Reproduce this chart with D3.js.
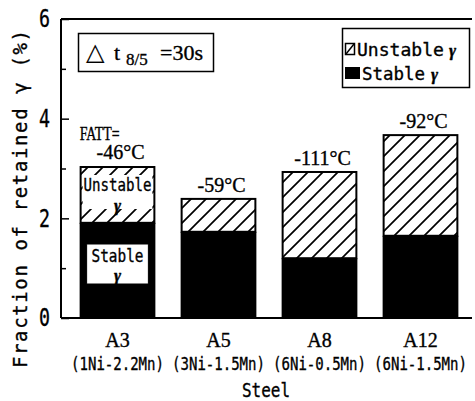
<!DOCTYPE html>
<html><head><meta charset="utf-8">
<script src="https://cdn.jsdelivr.net/npm/d3@7"></script>
<style>body{margin:0;background:#fff}svg{display:block}text{stroke:#000;stroke-width:0.35px}</style>
</head><body>
<script>
const categories = ["A3","A5","A8","A12"];
const compositions = ["(1Ni-2.2Mn)","(3Ni-1.5Mn)","(6Ni-0.5Mn)","(6Ni-1.5Mn)"];
const stable = [1.91, 1.73, 1.20, 1.65];
const unstable = [1.14, 0.68, 1.75, 2.04];
const fatt = ["-46°C","-59°C","-111°C","-92°C"];
const yTicks = [0,2,4,6];
const yMinor = [1,3,5];

(function(){
const W = 475, H = 401;
const svg = d3.select("body").append("svg").attr("width", W).attr("height", H);
const defs = svg.append("defs");
const pat = defs.append("pattern").attr("id","hatch").attr("patternUnits","userSpaceOnUse")
  .attr("width",15).attr("height",15);
pat.append("rect").attr("width",15).attr("height",15).attr("fill","#fff");
pat.append("path").attr("d","M0,15 L15,0 M-4,4 L4,-4 M11,19 L19,11").attr("stroke","#000").attr("stroke-width",1.7);

const mL = 61, mR = 472, mT = 19, mB = 318;
const y = d3.scaleLinear().domain([0,6]).range([mB, mT]);
const x = d3.scaleBand().domain(categories).range([67, 471]).paddingInner(0.25).paddingOuter(0.125);
const bw = x.bandwidth();

const serif = "'Liberation Serif', serif";
const sansMono = "'DejaVu Sans Mono', monospace";

function ctext(parent, px, py, str, family, size, width, anchor){
  const t = parent.append("text").attr("font-family",family).attr("font-size",size)
    .attr("text-anchor",anchor||"start").text(str);
  const nat = t.node().getComputedTextLength();
  const k = width / nat;
  t.attr("transform",`translate(${px},${py}) scale(${k},1)`);
  return t;
}

// bars
const g = svg.append("g");
categories.forEach((c,i)=>{
  const x0 = x(c);
  g.append("rect").attr("x",x0).attr("y",y(stable[i])).attr("width",bw).attr("height",y(0)-y(stable[i])).attr("fill","#000");
  g.append("rect").attr("x",x0+1).attr("y",y(stable[i]+unstable[i])+1).attr("width",bw-2)
    .attr("height",y(stable[i])-y(stable[i]+unstable[i])-1).attr("fill","url(#hatch)").attr("stroke","#000").attr("stroke-width",2);
});

// A3 in-bar labels
{
  const x0 = x("A3");
  const uTop = y(stable[0]+unstable[0]);
  g.append("rect").attr("x",x0+3).attr("y",uTop+9).attr("width",bw-6).attr("height",34).attr("fill","#fff");
  ctext(g, x0+bw/2, uTop+25, "Unstable", sansMono, 18, 68, "middle");
  g.append("text").attr("x",x0+bw/2).attr("y",uTop+45).attr("text-anchor","middle")
    .attr("font-family",serif).attr("font-style","italic").attr("font-weight","bold").attr("font-size",17).text("γ");
  g.append("rect").attr("x",x0+7).attr("y",244).attr("width",bw-14).attr("height",40).attr("fill","#fff").attr("stroke","#000").attr("stroke-width",1);
  ctext(g, x0+bw/2, 262, "Stable", sansMono, 18, 52, "middle");
  g.append("text").attr("x",x0+bw/2).attr("y",281).attr("text-anchor","middle")
    .attr("font-family",serif).attr("font-style","italic").attr("font-weight","bold").attr("font-size",17).text("γ");
}

// FATT labels
categories.forEach((c,i)=>{
  const tTop = y(stable[i]+unstable[i]);
  g.append("text").attr("x",x(c)+bw/2+3).attr("y",tTop-(i===0?7:6)).attr("text-anchor","middle")
    .attr("font-family",serif).attr("font-size",20).text(fatt[i]);
});
ctext(g, x("A3"), 140, "FATT=", serif, 19, 40, "start");

// axes
const ya = svg.append("g").attr("transform",`translate(${mL},0)`)
  .call(d3.axisLeft(y).tickValues(yTicks).tickSize(-8).tickPadding(11).tickFormat(d3.format("d")));
ya.select(".domain").remove();
ya.selectAll("line").attr("stroke-width",1.5);
ya.selectAll("text").attr("font-family",sansMono).attr("font-size",24).attr("fill","#000")
  .attr("textLength",11).attr("lengthAdjust","spacingAndGlyphs");
svg.append("g").attr("transform",`translate(${mL},0)`)
  .call(d3.axisLeft(y).tickValues(yMinor).tickSize(-5).tickFormat(""))
  .call(s=>{s.select(".domain").remove(); s.selectAll("line").attr("stroke-width",1.5);});
svg.append("line").attr("x1",mL).attr("x2",mL).attr("y1",mT).attr("y2",mB).attr("stroke","#000").attr("stroke-width",2);
svg.append("line").attr("x1",mL).attr("x2",mR).attr("y1",mT).attr("y2",mT).attr("stroke","#000").attr("stroke-width",2);
svg.append("line").attr("x1",mL).attr("x2",mR).attr("y1",mB).attr("y2",mB).attr("stroke","#000").attr("stroke-width",2);

// x labels
categories.forEach((c,i)=>{
  svg.append("text").attr("x",x(c)+bw/2).attr("y",347).attr("text-anchor","middle")
    .attr("font-family",serif).attr("font-size",20).text(c);
  ctext(svg, x(c)+bw/2, 370, compositions[i], sansMono, 18, 93, "middle");
});
ctext(svg, 266, 397, "Steel", sansMono, 19, 48, "middle");

// y title
svg.append("text").attr("transform","translate(27,199) rotate(-90)").attr("text-anchor","middle")
  .attr("font-family",sansMono).attr("font-size",19)
  .attr("textLength",338).attr("lengthAdjust","spacing")
  .text("Fraction of retained γ (%)");

// delta box
svg.append("rect").attr("x",78.5).attr("y",33.5).attr("width",135).attr("height",38).attr("fill","none").attr("stroke","#000").attr("stroke-width",1.5);
const dt = svg.append("text").attr("y",60).attr("font-family",serif).attr("font-size",22);
dt.append("tspan").attr("x",86).attr("font-family","'DejaVu Sans',sans-serif").attr("font-size",24).attr("stroke-width",0.1).text("△");
dt.append("tspan").attr("x",114).text("t");
dt.append("tspan").attr("x",126).attr("dy",5).attr("font-size",17).text("8/5");
dt.append("tspan").attr("x",160).attr("dy",-5).text("=30s");

// legend
svg.append("rect").attr("x",342.5).attr("y",28.5).attr("width",127).attr("height",59).attr("fill","#fff").attr("stroke","#000").attr("stroke-width",1.5);
svg.append("rect").attr("x",345.5).attr("y",43.5).attr("width",9).attr("height",11).attr("fill","#fff").attr("stroke","#000").attr("stroke-width",1.5);
svg.append("line").attr("x1",346).attr("y1",54).attr("x2",354).attr("y2",44).attr("stroke","#000").attr("stroke-width",1.5);
svg.append("rect").attr("x",345).attr("y",67).attr("width",15).attr("height",12).attr("fill","#000");
ctext(svg, 357, 56, "Unstable", sansMono, 18, 87, "start");
svg.append("text").attr("x",449).attr("y",56).attr("font-family",serif).attr("font-style","italic").attr("font-weight","bold").attr("font-size",17).text("γ");
ctext(svg, 362, 80, "Stable", sansMono, 18, 63, "start");
svg.append("text").attr("x",431).attr("y",80).attr("font-family",serif).attr("font-style","italic").attr("font-weight","bold").attr("font-size",17).text("γ");
})();
</script>
</body></html>
